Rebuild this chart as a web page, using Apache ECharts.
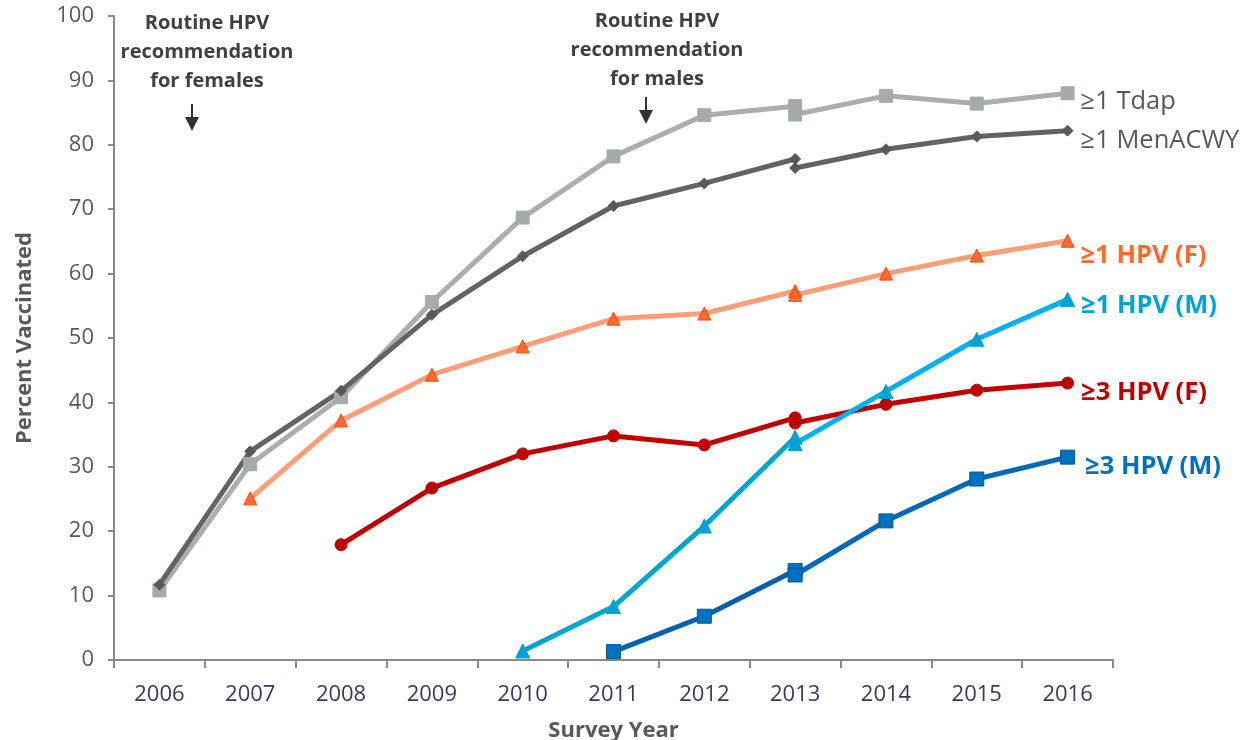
<!DOCTYPE html>
<html>
<head>
<meta charset="utf-8">
<script src="https://cdn.jsdelivr.net/npm/echarts@6/dist/echarts.min.js"></script>
<style>
  html, body { margin: 0; padding: 0; background: #fff; }
  #chart { width: 1249px; height: 740px; }
</style>
</head>
<body>
<div id="chart"></div>
<script>
// Survey years on the category axis
const years = ['2006', '2007', '2008', '2009', '2010', '2011', '2012', '2013', '2014', '2015', '2016'];

// Estimates through 2013 (original provider-data definition)
const oldYears = ['2006', '2007', '2008', '2009', '2010', '2011', '2012', '2013'];
// Estimates from 2013 onward (revised provider-data definition)
const newYears = ['2013', '2014', '2015', '2016'];

const tdapOld     = [10.8, 30.4, 40.8, 55.6, 68.7, 78.2, 84.6, 86.0];
const tdapNew     = [84.7, 87.6, 86.4, 88.0];
const menacwyOld  = [11.7, 32.4, 41.8, 53.6, 62.7, 70.5, 74.0, 77.8];
const menacwyNew  = [76.4, 79.3, 81.3, 82.2];
const hpv1FOld    = [null, 25.1, 37.2, 44.3, 48.7, 53.0, 53.8, 57.3];
const hpv1FNew    = [56.7, 60.0, 62.8, 65.1];
const hpv3FOld    = [null, null, 17.9, 26.7, 32.0, 34.8, 33.4, 37.6];
const hpv3FNew    = [36.8, 39.7, 41.9, 43.0];
const hpv1MOld    = [null, null, null, null, 1.4, 8.3, 20.8, 34.6];
const hpv1MNew    = [33.6, 41.7, 49.8, 56.0];
const hpv3MOld    = [null, null, null, null, null, 1.3, 6.8, 13.9];
const hpv3MNew    = [13.2, 21.6, 28.1, 31.5];

const FONT = '"Open Sans", "Noto Sans", sans-serif';

// One entry per vaccine measure: styling and end-of-line label
const measures = [
  { name: '≥1 Tdap', old: tdapOld, cur: tdapNew, line: '#A9B0AB', lineOld: '#A9B0AB',
    mark: '#A5ACA7', border: '#A5ACA7', symbol: 'rect', size: 13, width: 5,
    label: { color: '#595959', fontWeight: 'normal', dy: 8, dist: 6 } },
  { name: '≥1 MenACWY', old: menacwyOld, cur: menacwyNew, line: '#636363', lineOld: '#636363',
    mark: '#595959', border: '#595959', symbol: 'diamond', size: 11, width: 5,
    label: { color: '#595959', fontWeight: 'normal', dy: 10, dist: 7 } },
  { name: '≥1 HPV (F)', old: hpv1FOld, cur: hpv1FNew, line: '#FF9E78', lineOld: '#FF9E78',
    mark: '#FF6B35', border: '#FF4A00', symbol: 'triangle', size: 13, width: 5,
    label: { color: '#FF6A2A', fontWeight: 'bold', dy: 15, dist: 6 } },
  { name: '≥3 HPV (F)', old: hpv3FOld, cur: hpv3FNew, line: '#C00000', lineOld: '#C00000',
    mark: '#C00000', border: '#C00000', symbol: 'circle', size: 12, width: 5,
    label: { color: '#C00000', fontWeight: 'bold', dy: 10, dist: 7 } },
  { name: '≥3 HPV (M)', old: hpv3MOld, cur: hpv3MNew, line: '#0068B8', lineOld: '#0060AE',
    mark: '#0070C0', border: '#005A9E', symbol: 'rect', size: 14, width: 5,
    label: { color: '#0070C0', fontWeight: 'bold', dy: 10, dist: 10 } },
  { name: '≥1 HPV (M)', old: hpv1MOld, cur: hpv1MNew, line: '#00B0F0', lineOld: '#00A6D2',
    mark: '#00A2D4', border: '#00A2D4', symbol: 'triangle', size: 14, width: 5,
    label: { color: '#00A3D9', fontWeight: 'bold', dy: 6, dist: 6 } }
];

function points(xs, vals) {
  const out = [];
  vals.forEach((v, i) => { if (v !== null) out.push([xs[i], v]); });
  return out;
}

const series = [];
measures.forEach(m => {
  const base = {
    type: 'line',
    symbol: m.symbol,
    symbolSize: m.size,
    animation: false,
    itemStyle: { color: m.mark, borderColor: m.border, borderWidth: 1 },
    emphasis: { disabled: true }
  };
  series.push(Object.assign({}, base, {
    name: m.name + ' old',
    lineStyle: { color: m.lineOld, width: m.width },
    data: points(oldYears, m.old)
  }));
  const cur = points(newYears, m.cur).map(p => ({ value: p }));
  cur[cur.length - 1].label = {
    show: true,
    position: 'right',
    distance: m.label.dist,
    offset: [0, m.label.dy],
    formatter: m.name,
    color: m.label.color,
    fontWeight: m.label.fontWeight,
    fontSize: 25.5,
    fontFamily: FONT
  };
  series.push(Object.assign({}, base, {
    name: m.name,
    lineStyle: { color: m.line, width: m.width },
    data: cur
  }));
});

// Annotation: recommendation text with a downward arrow
function note(cx, topY, lines, arrowX, arrowTop) {
  const els = lines.map((t, i) => ({
    type: 'text',
    style: {
      text: t, x: cx, y: topY + i * 29, align: 'center', verticalAlign: 'middle',
      font: 'bold 20px ' + FONT, fill: '#404040'
    }
  }));
  els.push({
    type: 'line',
    shape: { x1: arrowX, y1: arrowTop, x2: arrowX, y2: arrowTop + 15 },
    style: { stroke: '#333', lineWidth: 2 }
  });
  els.push({
    type: 'polygon',
    shape: { points: [[arrowX - 7, arrowTop + 13], [arrowX + 7, arrowTop + 13], [arrowX, arrowTop + 27]] },
    style: { fill: '#333' }
  });
  return els;
}

const chart = echarts.init(document.getElementById('chart'), null, { renderer: 'canvas' });
chart.setOption({
  backgroundColor: '#ffffff',
  animation: false,
  grid: { left: 114, right: 136, top: 16, bottom: 80, containLabel: false, outerBoundsMode: 'none' },
  xAxis: {
    type: 'category',
    data: years,
    boundaryGap: true,
    name: 'Survey Year',
    nameLocation: 'middle',
    nameGap: 60,
    nameTextStyle: { color: '#595959', fontSize: 22, fontWeight: 'bold', fontFamily: FONT },
    axisLine: { lineStyle: { color: '#898989', width: 2 } },
    axisTick: { show: true, length: 8, lineStyle: { color: '#898989', width: 2 } },
    axisLabel: { color: '#3F3660', fontSize: 22, fontFamily: FONT, margin: 24 },
    splitLine: { show: false }
  },
  yAxis: {
    type: 'value',
    min: 0,
    max: 100,
    interval: 10,
    name: 'Percent Vaccinated',
    nameLocation: 'middle',
    nameGap: 78,
    nameRotate: 90,
    nameTextStyle: { color: '#595959', fontSize: 22, fontWeight: 'bold', fontFamily: FONT },
    axisLine: { show: true, lineStyle: { color: '#898989', width: 2 } },
    axisTick: { show: true, length: 6, lineStyle: { color: '#898989', width: 2 } },
    axisLabel: { color: '#595959', fontSize: 22, fontFamily: FONT, margin: 20 },
    splitLine: { show: false }
  },
  graphic: [
    ...note(207, 23, ['Routine HPV', 'recommendation', 'for females'], 192, 104),
    ...note(657, 21, ['Routine HPV', 'recommendation', 'for males'], 646, 97)
  ],
  series: series
});
</script>
</body>
</html>
